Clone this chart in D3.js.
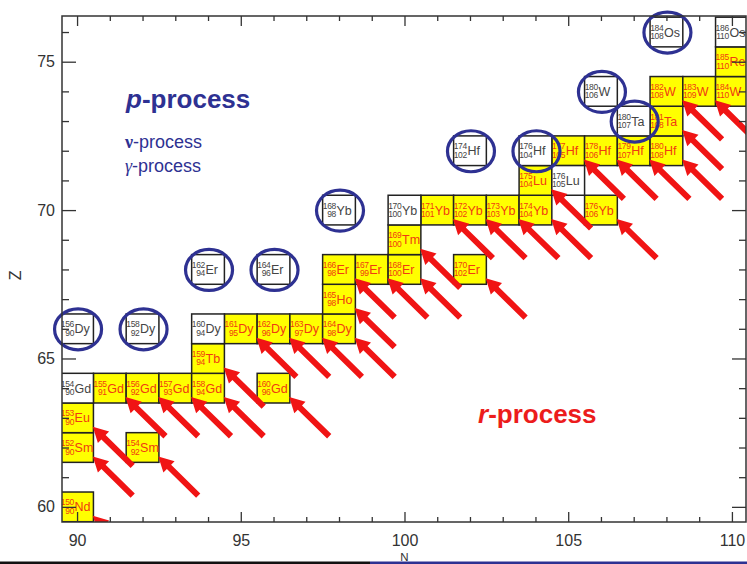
<!DOCTYPE html>
<html>
<head>
<meta charset="utf-8">
<script src="https://cdn.jsdelivr.net/npm/d3@7"></script>
<style>
  body { margin: 0; background: #fff; }
  svg { display: block; font-family: "Liberation Sans", Arial, sans-serif; }
</style>
</head>
<body>
<div id="main"></div>
<script>
// proton number of each element on the chart
let elementZ = {Nd: 60, Sm: 62, Eu: 63, Gd: 64, Tb: 65, Dy: 66, Ho: 67, Er: 68,
    Tm: 69, Yb: 70, Lu: 71, Hf: 72, Ta: 73, W: 74, Re: 75, Os: 76}

// r-process nuclides (yellow, fed by beta decay arrows)
let rNuclides = ["150Nd", "152Sm", "154Sm", "153Eu", "155Gd", "156Gd", "157Gd", "158Gd", "160Gd",
    "159Tb", "161Dy", "162Dy", "163Dy", "164Dy", "165Ho", "166Er", "167Er", "168Er", "170Er",
    "169Tm", "171Yb", "172Yb", "173Yb", "174Yb", "176Yb", "175Lu", "177Hf", "178Hf", "179Hf",
    "180Hf", "181Ta", "182W", "183W", "184W", "185Re"]
// shielded nuclides (white boxes)
let sNuclides = ["154Gd", "160Dy", "170Yb", "176Lu", "186Os"]
// p-nuclides (white boxes with a circle)
let pNuclides = ["156Dy", "158Dy", "162Er", "164Er", "168Yb", "174Hf", "176Hf", "180Ta", "180W", "184Os"]

let xMajor = [90, 95, 100, 105, 110]
let yMajor = [60, 65, 70, 75]

let width = 747, height = 564
let margin = {top: 16, right: 1, bottom: 42, left: 62}
let plotW = width - margin.left - margin.right,
    plotH = height - margin.top - margin.bottom

let navy = "#2e3192", red = "#f01414", axisColor = "#333"

function parse(name) {
    let m = name.match(/^(\d+)([A-Za-z]+)$/)
    let A = +m[1], sym = m[2], Z = elementZ[sym]
    return {A: A, sym: sym, Z: Z, N: A - Z}
}

let rData = rNuclides.map(d => Object.assign(parse(d), {kind: "r"}))
let sData = sNuclides.map(d => Object.assign(parse(d), {kind: "s"}))
let pData = pNuclides.map(d => Object.assign(parse(d), {kind: "p"}))
let allData = rData.concat(sData, pData)

let x = d3.scaleLinear().domain([89.54, 110.43]).range([0, plotW])
let y = d3.scaleLinear().domain([59.49, 76.54]).range([plotH, 0])

let mainSVG = d3.select("#main").append("svg")
    .attr("width", width)
    .attr("height", height)

let svg = mainSVG.append("g")
    .attr("transform", "translate(" + margin.left + "," + margin.top + ")")

svg.append("clipPath").attr("id", "plotClip")
    .append("rect").attr("width", plotW).attr("height", plotH)

let g = svg.append("g").attr("clip-path", "url(#plotClip)")

let bw = x(1) - x(0), bh = y(0) - y(1)

// boxes
let boxes = g.selectAll("g.box")
    .data(allData)
    .enter()
    .append("g")
    .attr("class", "box")
    .attr("transform", d => "translate(" + x(d.N) + "," + y(d.Z) + ")")

boxes.append("rect")
    .attr("x", -bw / 2)
    .attr("y", -bh / 2)
    .attr("width", bw)
    .attr("height", bh)
    .attr("fill", d => d.kind === "r" ? "#ffff00" : "#fff")
    .attr("stroke", "#222")
    .attr("stroke-width", 1.5)

let textColor = d => d.kind === "r" ? "#f03a12" : "#444"

boxes.append("text")
    .attr("x", -3)
    .attr("y", -1.5)
    .attr("text-anchor", "end")
    .attr("font-size", "8.5px")
    .attr("letter-spacing", "-0.3")
    .attr("fill", textColor)
    .text(d => d.A)

boxes.append("text")
    .attr("x", -3)
    .attr("y", 7)
    .attr("text-anchor", "end")
    .attr("font-size", "8.5px")
    .attr("letter-spacing", "-0.3")
    .attr("fill", textColor)
    .text(d => d.N)

boxes.append("text")
    .attr("x", -2.5)
    .attr("y", 4.5)
    .attr("font-size", "12.5px")
    .attr("fill", textColor)
    .text(d => d.sym)

// beta decay arrows feeding the r-process nuclides
function arrowPath(d) {
    let tx = x(d.N + 0.48), ty = y(d.Z - 0.3)
    let sx = x(d.N + 1.7), sy = y(d.Z - 1.62)
    let len = Math.hypot(tx - sx, ty - sy)
    let ux = (tx - sx) / len, uy = (ty - sy) / len
    let nx = -uy, ny = ux
    let hl = 15, hw = 8, sw = 3
    let bx = tx - ux * hl, by = ty - uy * hl
    let pts = [
        [sx + nx * sw, sy + ny * sw],
        [bx + nx * sw, by + ny * sw],
        [bx + nx * hw, by + ny * hw],
        [tx, ty],
        [bx - nx * hw, by - ny * hw],
        [bx - nx * sw, by - ny * sw],
        [sx - nx * sw, sy - ny * sw]
    ]
    return "M" + pts.map(p => p[0].toFixed(1) + "," + p[1].toFixed(1)).join("L") + "Z"
}

g.selectAll("path.arrow")
    .data(rData)
    .enter()
    .append("path")
    .attr("class", "arrow")
    .attr("d", arrowPath)
    .attr("fill", red)

// circles round the p-nuclides (drawn over the frame, not clipped)
svg.selectAll("ellipse.pcircle")
    .data(pData)
    .enter()
    .append("ellipse")
    .attr("class", "pcircle")
    .attr("cx", d => x(d.N) + 1)
    .attr("cy", d => y(d.Z) + 0.5)
    .attr("rx", 23.5)
    .attr("ry", 20.5)
    .attr("fill", "none")
    .attr("stroke", navy)
    .attr("stroke-width", 3.2)

// axes: inward ticks, major and minor
let xMinor = d3.range(90, 111).filter(v => xMajor.indexOf(v) < 0)
let yMinor = d3.range(60, 77).filter(v => yMajor.indexOf(v) < 0)

function styleAxis(sel) {
    sel.select(".domain").remove()
    sel.selectAll("line").attr("stroke", axisColor).attr("stroke-width", 1.3)
    sel.selectAll("text").attr("fill", axisColor).attr("font-size", "16px")
        .attr("font-family", "Liberation Sans, Arial, sans-serif")
}

svg.append("g").attr("transform", "translate(0," + plotH + ")")
    .call(d3.axisBottom(x).tickValues(xMajor).tickSize(-10).tickPadding(13).tickFormat(d3.format("d")))
    .call(styleAxis)
svg.append("g").attr("transform", "translate(0," + plotH + ")")
    .call(d3.axisBottom(x).tickValues(xMinor).tickSize(-5).tickFormat(""))
    .call(styleAxis)
svg.append("g")
    .call(d3.axisTop(x).tickValues(xMajor).tickSize(-10).tickFormat(""))
    .call(styleAxis)
svg.append("g")
    .call(d3.axisTop(x).tickValues(xMinor).tickSize(-5).tickFormat(""))
    .call(styleAxis)

svg.append("g")
    .call(d3.axisLeft(y).tickValues(yMajor).tickSize(-14).tickPadding(7).tickFormat(d3.format("d")))
    .call(styleAxis)
svg.append("g")
    .call(d3.axisLeft(y).tickValues(yMinor).tickSize(-7).tickFormat(""))
    .call(styleAxis)
svg.append("g").attr("transform", "translate(" + plotW + ",0)")
    .call(d3.axisRight(y).tickValues(yMajor).tickSize(-14).tickFormat(""))
    .call(styleAxis)
svg.append("g").attr("transform", "translate(" + plotW + ",0)")
    .call(d3.axisRight(y).tickValues(yMinor).tickSize(-7).tickFormat(""))
    .call(styleAxis)

svg.append("rect")
    .attr("width", plotW)
    .attr("height", plotH)
    .attr("fill", "none")
    .attr("stroke", axisColor)
    .attr("stroke-width", 1.5)

// axis titles
svg.append("text")
    .attr("x", x(100))
    .attr("y", plotH + 39)
    .attr("text-anchor", "middle")
    .attr("font-size", "11.5px")
    .attr("fill", axisColor)
    .text("N")

svg.append("text")
    .attr("transform", "translate(" + (-41) + "," + y(67.8) + ") rotate(-90)")
    .attr("text-anchor", "middle")
    .attr("font-size", "16px")
    .attr("fill", axisColor)
    .text("Z")

// process labels
let pLabel = mainSVG.append("text")
    .attr("x", 126)
    .attr("y", 108)
    .attr("font-size", "26px")
    .attr("font-weight", "bold")
    .attr("fill", navy)
pLabel.append("tspan").attr("font-style", "italic").text("p")
pLabel.append("tspan").text("-process")

let nuLabel = mainSVG.append("text")
    .attr("x", 125).attr("y", 148)
    .attr("font-size", "18px")
    .attr("fill", navy)
nuLabel.append("tspan").attr("font-family", "Liberation Serif, serif").attr("font-weight", "bold").text("ν")
nuLabel.append("tspan").text("-process")

let gammaLabel = mainSVG.append("text")
    .attr("x", 125).attr("y", 172)
    .attr("font-size", "18px")
    .attr("fill", navy)
gammaLabel.append("tspan").attr("font-family", "Liberation Serif, serif").attr("font-style", "italic").text("γ")
gammaLabel.append("tspan").text("-process")

let rLabel = mainSVG.append("text")
    .attr("x", 478)
    .attr("y", 423)
    .attr("font-size", "26px")
    .attr("font-weight", "bold")
    .attr("fill", "#ec1c1c")
rLabel.append("tspan").attr("font-style", "italic").text("r")
rLabel.append("tspan").text("-process")

// slide border at the bottom edge
mainSVG.append("rect").attr("x", 0).attr("y", 561.5).attr("width", 370).attr("height", 2.5).attr("fill", "#111")
mainSVG.append("rect").attr("x", 370).attr("y", 561.5).attr("width", 377).attr("height", 2.5).attr("fill", navy)
</script>
</body>
</html>
